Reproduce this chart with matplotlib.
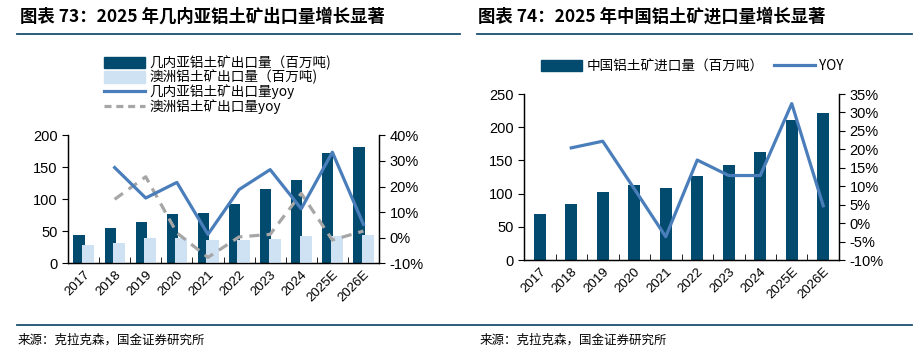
import matplotlib
matplotlib.use("Agg")
import matplotlib.pyplot as plt
from matplotlib.lines import Line2D
from matplotlib.patches import Patch
from matplotlib.ticker import FuncFormatter, MultipleLocator
import numpy as np

plt.rcParams['font.family'] = ['Liberation Sans', 'Noto Sans CJK SC', 'DejaVu Sans']

years = ["2017", "2018", "2019", "2020", "2021", "2022", "2023", "2024", "2025E", "2026E"]

# Left chart data
guinea_exports = [44, 55.6, 64, 77, 78, 92.5, 116, 130, 172, 181]
australia_exports = [28.6, 31.7, 39.5, 39, 36, 37, 38, 42.6, 42.6, 44]
guinea_yoy = [None, 27.4, 15.5, 21.6, 1.3, 18.8, 26.6, 11.3, 33.4, 5.2]
australia_yoy = [None, 15.0, 23.8, 1.9, -7.7, 0.3, 1.3, 17.3, -0.9, 2.6]

# Right chart data
china_imports = [69.4, 84, 102.6, 113, 108.6, 126.8, 143.4, 162, 211, 221.8]
china_yoy = [None, 20.4, 22.2, 9.3, -3.7, 17.1, 12.9, 12.9, 32.4, 4.7]

title_left = "图表 73：2025 年几内亚铝土矿出口量增长显著"
title_right = "图表 74：2025 年中国铝土矿进口量增长显著"
source_text = "来源：克拉克森，国金证券研究所"
leg_left = ["几内亚铝土矿出口量（百万吨)", "澳洲铝土矿出口量（百万吨)", "几内亚铝土矿出口量yoy", "澳洲铝土矿出口量yoy"]
leg_right = ["中国铝土矿进口量（百万吨）", "YOY"]

DARK = "#024A6E"
LIGHT = "#CFE2F3"
BLUE = "#4A7EBB"
GRAY = "#A6A6A6"
RULE = "#1B4F6E"

W, H = 924, 354
fig = plt.figure(figsize=(W / 100, H / 100), dpi=100)


def fx(px):
    return px / W


def fy(py):
    return 1 - py / H


def style_axes(ax, ax2, n):
    ax.spines['top'].set_visible(False)
    ax2.spines['top'].set_visible(False)
    ax.set_xlim(-0.5, n - 0.5)
    ax.set_xticks(np.arange(n))
    ax.set_xticklabels(years, rotation=45, ha='right', rotation_mode='anchor', fontsize=9.5)
    ax.tick_params(axis='x', length=0, pad=4)
    ax.set_xticks(np.arange(n + 1) - 0.5, minor=True)
    ax.tick_params(axis='x', which='minor', direction='in', length=4)
    ax.tick_params(axis='y', direction='out', length=4, labelsize=10.5)
    ax2.tick_params(axis='y', direction='out', length=4, labelsize=10.5)
    for a in (ax, ax2):
        for s in a.spines.values():
            s.set_linewidth(0.9)


pct = FuncFormatter(lambda v, p: f"{int(round(v))}%")
x = np.arange(len(years))

# ---------------- Left chart ----------------
axL = fig.add_axes([fx(68), fy(263.3), fx(311), 128 / H])
axL2 = axL.twinx()
axL.bar(x - 0.145, guinea_exports, width=0.36, color=DARK, zorder=2)
axL.bar(x + 0.145, australia_exports, width=0.39, color=LIGHT, zorder=3)
axL.set_ylim(0, 200)
axL.yaxis.set_major_locator(MultipleLocator(50))
gx = [i for i, v in enumerate(guinea_yoy) if v is not None]
axL2.plot(gx, [guinea_yoy[i] for i in gx], color=BLUE, lw=2.3, zorder=5)
ax_ = [i for i, v in enumerate(australia_yoy) if v is not None]
axL2.plot(ax_, [australia_yoy[i] for i in ax_], color=GRAY, lw=2.3, ls=(0, (3.2, 2.2)), zorder=4)
axL2.set_ylim(-10, 40)
axL2.yaxis.set_major_locator(MultipleLocator(10))
axL2.yaxis.set_major_formatter(pct)
style_axes(axL, axL2, len(years))

handlesL = [Patch(color=DARK), Patch(color=LIGHT),
            Line2D([], [], color=BLUE, lw=2.3),
            Line2D([], [], color=GRAY, lw=2.3, ls=(0, (2.2, 1.5)))]
fig.legend(handlesL, leg_left, loc='upper left', bbox_to_anchor=(fx(99), fy(50)),
           frameon=False, handlelength=3.0, handleheight=0.9,
           labelspacing=0.0, handletextpad=0.3, borderaxespad=0,
           prop={'family': ['Noto Sans CJK SC', 'Liberation Sans'], 'size': 9.8})

# ---------------- Right chart ----------------
axR = fig.add_axes([fx(524), fy(260), fx(315), 166 / H])
axR2 = axR.twinx()
axR.bar(x, china_imports, width=0.38, color=DARK, zorder=2)
axR.set_ylim(0, 250)
axR.yaxis.set_major_locator(MultipleLocator(50))
cx = [i for i, v in enumerate(china_yoy) if v is not None]
axR2.plot(cx, [china_yoy[i] for i in cx], color=BLUE, lw=2.3, zorder=5)
axR2.set_ylim(-10, 35)
axR2.yaxis.set_major_locator(MultipleLocator(5))
axR2.yaxis.set_major_formatter(pct)
style_axes(axR, axR2, len(years))

handlesR = [Patch(color=DARK), Line2D([], [], color=BLUE, lw=2.3)]
fig.legend(handlesR, leg_right, loc='upper left', bbox_to_anchor=(fx(536), fy(54)),
           frameon=False, ncol=2, handlelength=3.0, handleheight=0.9,
           handletextpad=0.3, columnspacing=0.8, borderaxespad=0,
           prop={'family': ['Noto Sans CJK SC', 'Liberation Sans'], 'size': 9.8})

# ---------------- Titles, rules, sources ----------------
tprops = dict(fontsize=12.5, fontweight='bold', style='italic',
              family=['Noto Sans CJK SC', 'DejaVu Sans'], va='center', ha='left')
fig.text(fx(20), fy(17), title_left, **tprops)
fig.text(fx(478), fy(17), title_right, **tprops)

fig.add_artist(Line2D([fx(17), fx(460)], [fy(34), fy(34)], color=RULE, lw=1.3))
fig.add_artist(Line2D([fx(477), fx(912)], [fy(34), fy(34)], color=RULE, lw=1.3))
fig.add_artist(Line2D([fx(17), fx(912)], [fy(325), fy(325)], color=RULE, lw=1.3))

sprops = dict(fontsize=9, family=['Noto Sans CJK SC', 'DejaVu Sans'], va='center', ha='left')
fig.text(fx(18), fy(340), source_text, **sprops)
fig.text(fx(480), fy(340), source_text, **sprops)

fig.savefig("out.png", dpi=100)
